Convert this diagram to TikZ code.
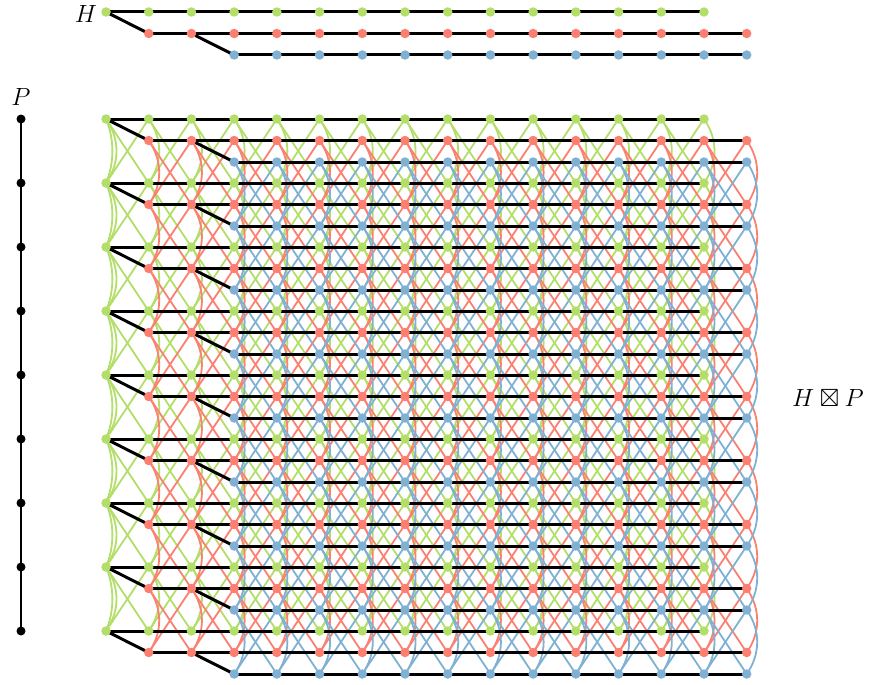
\documentclass[tikz,border=0pt]{standalone}
\usepackage{amssymb}
\definecolor{cg}{HTML}{B3DE69}
\definecolor{cr}{HTML}{FB8072}
\definecolor{cb}{HTML}{80B1D3}
\tikzset{
  vdot/.style={circle, inner sep=0pt, minimum size=9.5pt, fill=#1, draw=none},
  pdot/.style={circle, inner sep=0pt, minimum size=9pt, fill=black, draw=none},
  hedge/.style={black, line width=3pt},
  cedge/.style={#1, line width=1.8pt},
  lbl/.style={inner sep=0pt, font=\Huge},
}
\begin{document}
\begin{tikzpicture}[x=1pt,y=-1pt]
\useasboundingbox (0,0) rectangle (870,685);
% coordinates
\foreach \c/\dy/\a/\b in {g/0/0/14, r/21.5/1/15, b/43/3/15}{
  \foreach \k in {\a,...,\b}{
    \coordinate (\c-h-\k) at ({106+42.714*\k}, {12+\dy});
    \foreach \i in {0,...,8}{
      \coordinate (\c-\i-\k) at ({106+42.714*\k}, {119+64*\i+\dy});
    }
  }
}
\foreach \i in {0,...,8}{
  \coordinate (p-\i) at (21, {119+64*\i});
}
% coloured edges between layers
\foreach \c/\col/\a/\b in {g/cg/0/14, r/cr/1/15, b/cb/3/15}{
  \pgfmathtruncatemacro\bb{\b-1}
  \foreach \i [evaluate=\i as \j using int(\i+1)] in {0,...,7}{
    \foreach \k in {\a,...,\b}{
      \draw[cedge=\col] (\c-\i-\k) .. controls +(14,20) and +(14,-20) .. (\c-\j-\k);
    }
    \foreach \k [evaluate=\k as \kk using int(\k+1)] in {\a,...,\bb}{
      \draw[cedge=\col] (\c-\i-\k) -- (\c-\j-\kk);
      \draw[cedge=\col] (\c-\i-\kk) -- (\c-\j-\k);
    }
  }
}
% the first column of the green row has a second, flatter arc
\foreach \i [evaluate=\i as \j using int(\i+1)] in {0,...,7}{
  \draw[cedge=cg] (g-\i-0) .. controls +(8.5,20) and +(8.5,-20) .. (g-\j-0);
}
% black edges inside every copy of H
\foreach \l in {h,0,1,2,3,4,5,6,7,8}{
  \draw[hedge] (g-\l-0) -- (g-\l-14);
  \draw[hedge] (r-\l-1) -- (r-\l-15);
  \draw[hedge] (b-\l-3) -- (b-\l-15);
  \draw[hedge] (g-\l-0) -- (r-\l-1);
  \draw[hedge] (r-\l-2) -- (b-\l-3);
}
% vertices
\foreach \c/\col/\a/\b in {g/cg/0/14, r/cr/1/15, b/cb/3/15}{
  \foreach \l in {h,0,1,2,3,4,5,6,7,8}{
    \foreach \k in {\a,...,\b}{
      \node[vdot=\col] (n\c-\l-\k) at (\c-\l-\k) {};
    }
  }
}
% the path P
\draw[black, line width=2.6pt] (p-0) -- (p-8);
\foreach \i in {0,...,8}{
  \node[pdot] (np-\i) at (p-\i) {};
}
% labels
\node[lbl] (labH) at (86,14) {$H$};
\node[lbl] (labP) at (21,97) {$P$};
\node[lbl] (labHP) at (828,398) {$H\boxtimes P$};
\end{tikzpicture}
\end{document}
